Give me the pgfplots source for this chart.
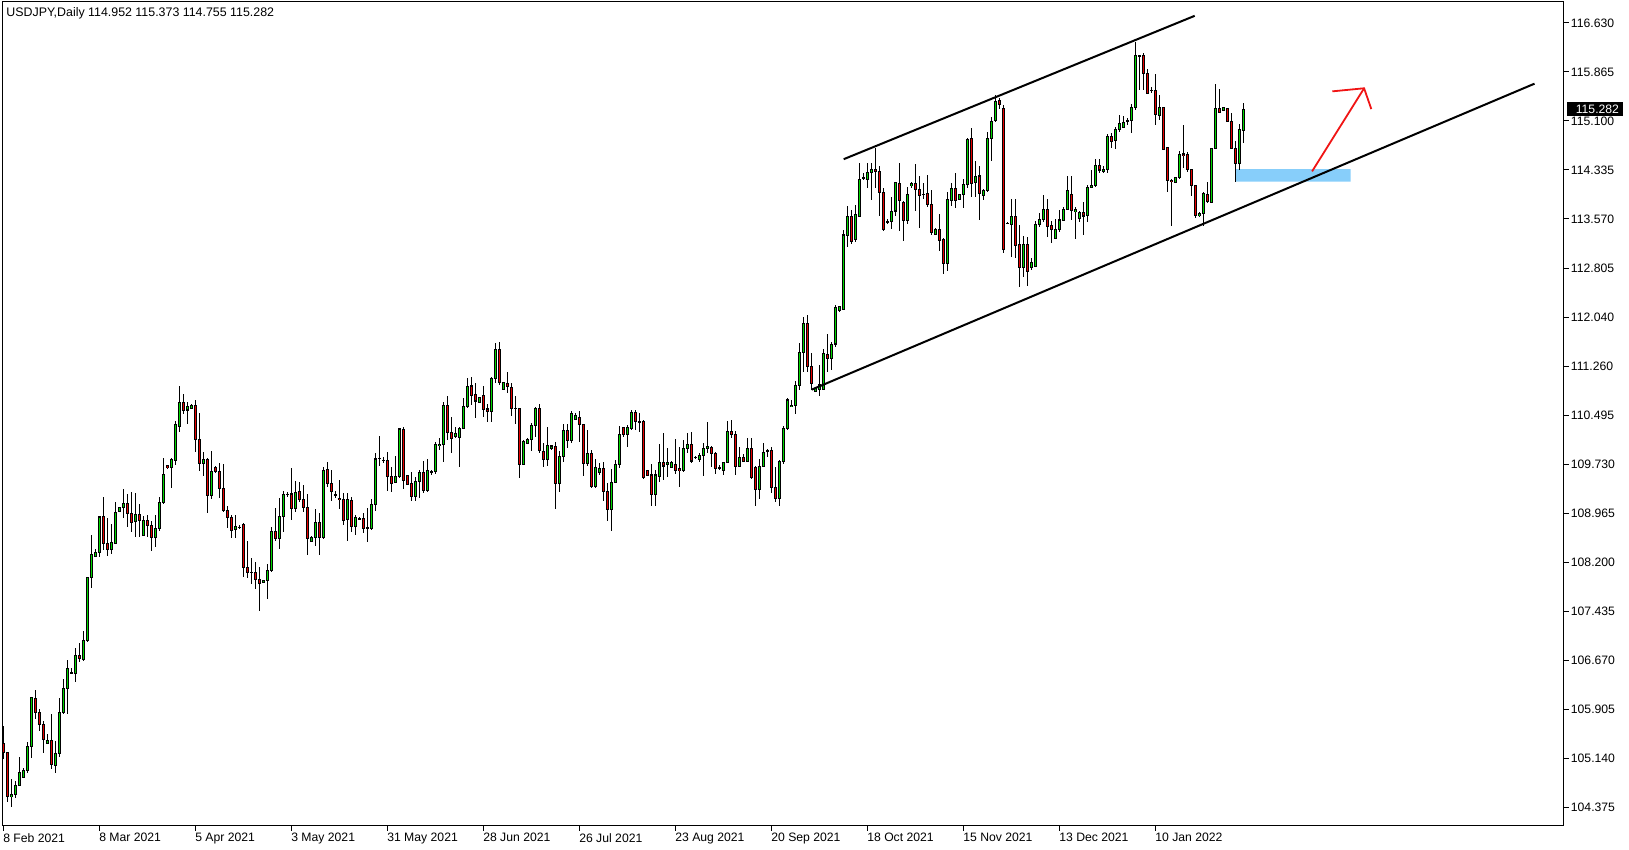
\documentclass[border=0pt]{standalone}
\usepackage{pgfplots}
\usepackage{pgfplotstable}
\pgfplotsset{compat=1.18}
\usepackage{fontspec}
\setmainfont{Liberation Sans}
\definecolor{cgreen}{RGB}{0,215,0}
\definecolor{cred}{RGB}{230,0,0}
\definecolor{cblue}{RGB}{135,206,250}
\definecolor{carrow}{RGB}{240,20,20}

\pgfplotstableread{
i o h l c
0 105.373 105.649 105.128 105.232
1 105.232 105.243 104.461 104.540
2 104.540 104.816 104.383 104.576
3 104.576 104.784 104.524 104.722
4 104.722 105.165 104.712 104.920
5 104.842 104.993 104.837 104.957
6 104.946 105.399 104.904 105.331
7 105.321 106.102 105.149 106.087
8 106.076 106.206 105.748 105.857
9 105.857 105.910 105.571 105.670
10 105.670 105.722 105.217 105.435
11 105.373 105.519 105.373 105.420
12 105.420 105.826 104.967 105.045
13 105.035 105.410 104.904 105.217
14 105.217 106.076 105.165 105.857
15 105.857 106.378 105.826 106.232
16 106.232 106.675 105.826 106.545
17 106.482 106.545 106.451 106.472
18 106.467 106.857 106.337 106.753
19 106.753 106.936 106.649 106.701
20 106.691 107.128 106.660 106.977
21 106.977 107.977 106.951 107.967
22 107.967 108.628 107.795 108.326
23 108.290 108.410 108.279 108.357
24 108.357 108.930 108.279 108.910
25 108.910 109.222 108.394 108.498
26 108.498 108.899 108.305 108.404
27 108.405 108.801 108.327 108.509
28 108.499 109.139 108.499 108.983
29 108.999 109.061 108.999 109.061
30 109.061 109.348 108.889 109.124
31 109.124 109.270 108.749 108.967
32 108.967 109.296 108.681 108.827
33 108.837 109.280 108.603 108.952
34 108.952 109.108 108.592 108.858
35 108.624 108.931 108.624 108.858
36 108.858 108.941 108.592 108.775
37 108.780 108.848 108.384 108.592
38 108.592 108.941 108.436 108.733
39 108.733 109.217 108.697 109.139
40 109.139 109.827 109.108 109.577
41 109.712 109.723 109.665 109.681
42 109.686 109.827 109.358 109.811
43 109.800 110.410 109.728 110.348
44 110.332 110.957 110.243 110.702
45 110.702 110.832 110.520 110.582
46 110.582 110.712 110.358 110.639
47 110.613 110.676 110.603 110.660
48 110.660 110.738 109.931 110.124
49 110.124 110.530 109.634 109.749
50 109.749 109.921 109.556 109.811
51 109.811 109.837 108.978 109.249
52 109.249 109.941 109.186 109.624
53 109.685 109.711 109.602 109.618
54 109.618 109.748 109.211 109.357
55 109.357 109.732 108.993 109.019
56 109.019 109.081 108.732 108.899
57 108.899 108.941 108.586 108.696
58 108.711 108.941 108.586 108.763
59 108.748 108.784 108.717 108.748
60 108.800 108.810 107.977 108.118
61 108.123 108.534 107.951 108.045
62 108.045 108.263 107.857 108.045
63 108.045 108.211 107.784 107.935
64 107.935 108.123 107.446 107.873
65 107.888 107.925 107.883 107.920
66 107.915 108.175 107.623 108.076
67 108.071 108.748 108.055 108.691
68 108.691 109.050 108.534 108.571
69 108.571 109.211 108.415 108.925
70 108.920 109.316 108.680 109.269
71 109.263 109.295 109.227 109.263
72 109.269 109.680 108.862 109.045
73 109.045 109.472 108.993 109.295
74 109.310 109.461 109.138 109.185
75 109.185 109.409 108.993 109.060
76 109.065 109.269 108.310 108.576
77 108.524 108.607 108.513 108.592
78 108.592 109.034 108.461 108.826
79 108.826 108.967 108.315 108.592
80 108.592 109.697 108.560 109.644
81 109.645 109.770 109.374 109.436
82 109.436 109.645 109.165 109.306
83 109.260 109.311 109.212 109.260
84 109.202 109.488 109.035 109.181
85 109.186 109.280 108.785 108.863
86 108.863 109.280 108.540 109.176
87 109.176 109.228 108.681 108.759
88 108.759 108.941 108.629 108.900
89 108.884 108.905 108.863 108.884
90 108.889 108.967 108.665 108.733
91 108.740 109.045 108.524 108.745
92 108.733 109.186 108.707 109.108
93 109.108 109.905 109.004 109.816
94 109.830 110.176 109.707 109.830
95 109.800 109.843 109.760 109.800
96 109.800 109.920 109.320 109.540
97 109.550 109.686 109.300 109.436
98 109.447 109.863 109.436 109.550
99 109.540 110.306 109.514 110.285
100 110.285 110.311 109.342 109.478
101 109.561 109.561 109.420 109.426
102 109.436 109.613 109.165 109.228
103 109.228 109.540 109.165 109.467
104 109.460 109.645 109.202 109.608
105 109.608 109.785 109.280 109.322
106 109.322 109.816 109.306 109.634
107 109.618 109.645 109.566 109.618
108 109.618 110.077 109.582 110.046
109 110.025 110.139 109.957 110.046
110 110.046 110.712 109.775 110.645
111 110.645 110.801 110.113 110.233
112 110.233 110.467 109.915 110.139
113 110.165 110.311 110.139 110.217
114 110.150 110.322 109.697 110.296
115 110.296 110.764 110.285 110.645
116 110.634 111.077 110.608 110.957
117 110.957 111.092 110.660 110.816
118 110.827 110.999 110.452 110.723
119 110.697 110.790 110.697 110.770
120 110.801 110.957 110.478 110.592
121 110.598 110.676 110.400 110.556
122 110.556 111.103 110.400 111.077
123 111.077 111.624 110.999 111.520
124 111.520 111.639 110.973 111.009
125 110.905 111.025 110.894 111.009
126 110.999 111.170 110.853 110.947
127 110.936 110.999 110.493 110.608
128 110.608 110.801 110.363 110.608
129 110.608 110.608 109.514 109.723
130 109.738 110.113 109.723 110.087
131 110.061 110.139 110.050 110.125
132 110.123 110.373 109.946 110.337
133 110.337 110.623 110.165 110.607
134 110.607 110.670 109.904 109.946
135 109.941 110.060 109.686 109.811
136 109.811 110.311 109.712 110.030
137 109.977 110.034 109.956 110.019
138 110.019 110.076 109.034 109.436
139 109.436 109.941 109.305 109.863
140 109.863 110.363 109.774 110.269
141 110.269 110.363 109.982 110.102
142 110.102 110.566 110.061 110.529
143 110.436 110.529 110.425 110.503
144 110.467 110.566 110.087 110.357
145 110.357 110.357 109.555 109.748
146 109.748 110.269 109.712 109.904
147 109.904 109.956 109.357 109.383
148 109.383 109.816 109.357 109.686
149 109.602 109.748 109.566 109.670
150 109.670 109.764 109.165 109.305
151 109.305 109.436 108.847 109.024
152 109.024 109.660 108.696 109.451
153 109.451 109.800 109.436 109.732
154 109.732 110.331 109.670 110.201
155 110.311 110.311 110.165 110.206
156 110.206 110.347 109.998 110.311
157 110.295 110.581 110.269 110.545
158 110.545 110.582 110.269 110.399
159 110.399 110.530 110.243 110.399
160 110.399 110.420 109.500 109.524
161 109.644 109.644 109.566 109.566
162 109.566 109.733 109.082 109.264
163 109.264 109.644 109.082 109.566
164 109.540 110.045 109.452 109.764
165 109.764 110.217 109.488 109.707
166 109.733 109.983 109.540 109.769
167 109.681 109.785 109.670 109.764
168 109.733 110.123 109.582 109.644
169 109.660 110.009 109.384 109.634
170 109.634 110.113 109.618 109.983
171 109.983 110.217 109.905 110.050
172 110.050 110.233 109.748 109.785
173 109.842 109.863 109.811 109.842
174 109.816 109.905 109.774 109.879
175 109.879 110.061 109.556 109.983
176 109.983 110.389 109.905 110.019
177 109.998 110.019 109.696 109.905
178 109.905 109.931 109.582 109.670
179 109.681 109.722 109.644 109.681
180 109.644 109.774 109.566 109.764
181 109.764 110.415 109.748 110.243
182 110.243 110.426 110.139 110.202
183 110.202 110.250 109.570 109.696
184 109.707 110.009 109.696 109.842
185 109.842 109.894 109.774 109.774
186 109.774 110.139 109.774 109.982
187 109.982 110.139 109.498 109.524
188 109.686 109.712 109.087 109.342
189 109.342 109.816 109.186 109.696
190 109.696 110.061 109.686 109.920
191 109.946 109.972 109.842 109.946
192 109.946 110.009 109.290 109.373
193 109.373 109.696 109.139 109.201
194 109.201 109.800 109.087 109.774
195 109.774 110.331 109.732 110.295
196 110.295 110.774 110.269 110.738
197 110.634 110.738 110.634 110.660
198 110.649 111.040 110.514 110.972
199 110.972 111.623 110.894 111.482
200 111.482 112.040 111.180 111.936
201 111.936 112.066 111.180 111.269
202 111.269 111.467 110.894 110.998
203 110.878 110.946 110.868 110.920
204 110.904 111.284 110.800 110.972
205 110.904 111.535 110.894 111.467
206 111.456 111.769 111.180 111.389
207 111.389 111.639 111.206 111.613
208 111.613 112.222 111.571 112.186
209 112.133 112.212 112.107 112.196
210 112.159 113.394 112.144 113.316
211 113.316 113.774 113.133 113.602
212 113.602 113.706 113.175 113.222
213 113.248 113.784 113.211 113.644
214 113.602 114.435 113.602 114.190
215 114.211 114.279 114.175 114.211
216 114.190 114.435 114.055 114.295
217 114.295 114.435 113.862 114.347
218 114.347 114.680 114.055 114.305
219 114.315 114.399 113.618 113.982
220 113.982 114.045 113.383 113.409
221 113.524 113.560 113.487 113.524
222 113.524 113.904 113.404 113.691
223 113.691 114.149 113.612 114.138
224 114.123 114.435 113.383 113.852
225 113.821 113.847 113.227 113.539
226 113.539 114.071 113.482 113.951
227 114.086 114.149 114.055 114.123
228 114.123 114.420 113.691 114.029
229 114.029 114.243 113.430 113.940
230 113.956 114.123 113.873 113.956
231 113.966 114.253 113.758 113.795
232 113.795 114.019 113.316 113.357
233 113.326 113.430 113.316 113.409
234 113.409 113.638 113.065 113.227
235 113.248 113.274 112.701 112.873
236 112.873 113.982 112.760 113.878
237 113.863 114.134 113.775 114.045
238 114.045 114.280 113.733 113.853
239 113.874 113.952 113.874 113.952
240 113.952 114.186 113.733 114.108
241 114.108 114.837 114.045 114.816
242 114.816 114.993 113.915 114.124
243 114.134 114.473 113.915 114.238
244 114.238 114.394 113.551 113.967
245 113.931 114.035 113.863 114.019
246 114.004 114.931 113.993 114.827
247 114.827 115.165 114.473 115.098
248 115.098 115.504 115.087 115.410
249 115.410 115.452 115.285 115.358
250 115.295 115.348 113.030 113.092
251 113.499 113.514 113.483 113.499
252 113.483 113.874 112.967 113.613
253 113.613 113.874 112.962 113.150
254 113.170 113.473 112.509 112.806
255 112.806 113.301 112.665 113.170
256 113.170 113.290 112.519 112.743
257 112.806 112.952 112.769 112.889
258 112.821 113.535 112.821 113.483
259 113.473 113.665 113.447 113.551
260 113.551 113.941 113.514 113.717
261 113.717 113.874 113.290 113.447
262 113.457 113.535 113.196 113.405
263 113.264 113.561 113.248 113.404
264 113.394 113.706 113.368 113.550
265 113.550 113.748 113.535 113.722
266 113.722 114.238 113.706 114.009
267 113.951 114.238 113.550 113.706
268 113.680 113.759 113.248 113.717
269 113.576 113.696 113.524 113.665
270 113.670 113.837 113.316 113.613
271 113.613 114.097 113.524 114.061
272 114.061 114.332 114.045 114.097
273 114.087 114.503 114.071 114.399
274 114.410 114.503 114.290 114.332
275 114.305 114.394 114.290 114.347
276 114.342 114.889 114.290 114.852
277 114.852 114.904 114.670 114.774
278 114.785 115.009 114.654 114.967
279 114.967 115.191 114.930 115.061
280 115.000 115.175 114.983 115.076
281 115.102 115.139 115.035 115.102
282 115.097 115.357 114.915 115.311
283 115.305 116.337 115.269 116.128
284 116.118 116.128 115.581 116.118
285 116.113 116.165 115.581 115.842
286 115.832 115.904 115.529 115.529
287 115.581 115.623 115.540 115.581
288 115.571 115.826 115.030 115.191
289 115.191 115.500 115.120 115.311
290 115.311 115.311 114.644 114.660
291 114.681 114.681 113.983 114.160
292 114.170 114.186 113.462 114.149
293 114.139 114.227 114.139 114.212
294 114.212 114.628 114.191 114.576
295 114.582 115.035 114.358 114.556
296 114.576 114.608 114.306 114.342
297 114.342 114.342 113.931 114.097
298 114.087 114.097 113.576 113.628
299 113.618 113.670 113.592 113.654
300 113.654 113.993 113.462 113.957
301 113.957 114.139 113.821 113.837
302 113.826 114.681 113.811 114.660
303 114.660 115.670 114.660 115.295
304 115.295 115.597 115.217 115.227
305 115.259 115.321 115.254 115.306
306 115.295 115.306 115.087 115.097
307 115.097 115.227 114.660 114.670
308 114.670 114.785 114.139 114.436
309 114.436 115.045 114.332 114.957
310 114.952 115.373 114.755 115.282
}\candles

\pgfplotsset{
  candle/.style={only marks, mark=*, mark size=0pt,
    mark options={draw opacity=0, fill opacity=0}, forget plot,
    error bars/y dir=both, error bars/y explicit, error bars/error mark=none},
}

\begin{document}
\begin{tikzpicture}
\useasboundingbox (-1.25pt,-12pt) rectangle (813.25pt,413pt);
\begin{axis}[
  at={(0,0)}, anchor=south west,
  scale only axis, width=780.5pt, height=412.25pt,
  xmin=-0.2, xmax=390.05,
  ymin=104.082, ymax=116.964,
  clip=false,
  axis line style={line width=0.5pt, black},
  tick align=outside,
  major tick length=2.5pt,
  major tick style={line width=0.5pt, black},
  ytick={104.375,105.141,105.907,106.673,107.439,108.205,108.971,109.737,110.502,111.268,112.034,112.800,113.566,114.332,115.098,115.864,116.630},
  yticklabels={104.375,105.140,105.905,106.670,107.435,108.200,108.965,109.730,110.495,111.260,112.040,112.805,113.570,114.335,115.100,115.865,116.630},
  ytick pos=right, yticklabel pos=right,
  xtick={0,24,48,72,96,120,144,168,192,216,240,264,288},
  xticklabels={8 Feb 2021,8 Mar 2021,5 Apr 2021,3 May 2021,31 May 2021,28 Jun 2021,26 Jul 2021,23 Aug 2021,20 Sep 2021,18 Oct 2021,15 Nov 2021,13 Dec 2021,10 Jan 2022},
  xtick pos=bottom,
  ticklabel style={font=\fontsize{6.1}{7}\selectfont},
  xticklabel style={anchor=north west, xshift=-1.2pt, inner sep=1pt},
  yticklabel style={anchor=west, inner sep=1pt},
  minor tick num=0,
]
% highlight zone
\addplot[fill=cblue, draw=none, forget plot] coordinates {(308.2,114.149) (336.8,114.149) (336.8,114.343) (308.2,114.343) (308.2,114.149)};

% wicks
\addplot[candle, error bars/error bar style={line width=0.5pt, black}]
  table[x=i, y expr={(\thisrow{h}+\thisrow{l})/2}, y error expr={(\thisrow{h}-\thisrow{l})/2}] {\candles};
% body outlines
\addplot[candle, error bars/error bar style={line width=1.6pt, black}]
  table[x=i, y expr={(\thisrow{o}+\thisrow{c})/2}, y error expr={abs(\thisrow{c}-\thisrow{o})/2+0.008}] {\candles};
% bull bodies
\addplot[candle, restrict expr to domain={\thisrow{c}-\thisrow{o}}{0:100},
  error bars/error bar style={line width=0.75pt, cgreen}]
  table[x=i, y expr={(\thisrow{o}+\thisrow{c})/2}, y error expr={max(abs(\thisrow{c}-\thisrow{o})/2-0.008,0)}] {\candles};
% bear bodies
\addplot[candle, restrict expr to domain={\thisrow{c}-\thisrow{o}}{-100:-0.00001},
  error bars/error bar style={line width=0.75pt, cred}]
  table[x=i, y expr={(\thisrow{o}+\thisrow{c})/2}, y error expr={max(abs(\thisrow{c}-\thisrow{o})/2-0.008,0)}] {\candles};

% channel lines
\addplot[black, line width=1pt, forget plot] coordinates {(210.1,114.50) (297.85,116.74)};
\addplot[black, line width=1pt, forget plot] coordinates {(202.1,110.90) (382.8,115.68)};
% arrow
\addplot[carrow, line width=0.9pt, forget plot] coordinates {(327.2,114.310) (340.2,115.608)};
\addplot[carrow, line width=0.9pt, forget plot] coordinates {(332.25,115.56) (340.2,115.608) (342.0,115.283)};

% price label
\node[fill=black, text=white, anchor=west, inner sep=0pt, minimum height=7.3pt, minimum width=28pt, align=left,
  font=\fontsize{6.1}{7}\selectfont] at (axis cs:390.05,115.282) [xshift=1.6pt] {\hspace*{2.3pt}115.282\hfill};
% title
\node[anchor=west, inner sep=0pt, font=\fontsize{6.2}{7}\selectfont] at (rel axis cs:0,1) [xshift=1.75pt, yshift=-5.75pt]
  {USDJPY,Daily 114.952 115.373 114.755 115.282};
\end{axis}
\end{tikzpicture}
\end{document}
